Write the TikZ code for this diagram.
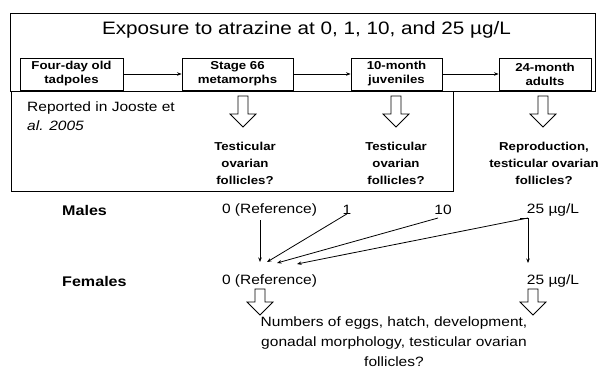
\documentclass[tikz,border=0pt]{standalone}
\usepackage{fontspec}
\setmainfont{Liberation Sans}[FakeStretch=1.15]
\usetikzlibrary{arrows.meta}
\newcommand\hollowarr[3]{%
  \draw[line width=0.8pt, fill=white] ({#1-5},#2) -- ({#1+5},#2) -- ({#1+5},{#3-13}) -- ({#1+13},{#3-13}) -- (#1,#3) -- ({#1-13},{#3-13}) -- ({#1-5},{#3-13}) -- cycle;}
\begin{document}
\begin{tikzpicture}[x=1pt,y=-1pt,
  frame/.style={draw=black, line width=0.9pt},
  stagebox/.style={draw, line width=0.9pt, minimum width=#1, minimum height=32pt, inner sep=0pt, align=center, font=\fontsize{11.5}{14}\selectfont\bfseries},
  qtext/.style={align=center, inner sep=0pt, font=\fontsize{11.5}{17}\selectfont\bfseries},
  ltext/.style={inner sep=0pt, font=\fontsize{13.5}{19}\selectfont},
  sexlabel/.style={inner sep=0pt, anchor=west, font=\fontsize{14}{16}\selectfont\bfseries},
  flow/.style={line width=0.7pt, -{Stealth[length=4.5pt,width=3.5pt]}},
  link/.style={line width=0.8pt, -{Stealth[length=4.5pt,width=3.5pt]}}]
\useasboundingbox (0,0) rectangle (601,375);
% frames
\draw[frame] (10,13) rectangle (595,91);
\draw[frame] (11,91) -- (11,191) -- (453,191) -- (453,91);
% title
\node[inner sep=0pt, font=\fontsize{18}{20}\selectfont] (title) at (306.5,30) {Exposure to atrazine at 0, 1, 10, and 25 µg/L};
% stage boxes
\node[stagebox=103] (s1) at (71.5,74) {Four-day old\\tadpoles};
\node[stagebox=111] (s2) at (237.5,74) {Stage 66\\metamorphs};
\node[stagebox=91] (s3) at (396.5,74) {10-month\\juveniles};
\node[stagebox=92] (s4) at (545,74) {24-month\\adults};
\draw[flow] (s1) -- (s2);
\draw[flow] (s2) -- (s3);
\draw[flow] (s3) -- (s4);
% reported
\node[ltext, anchor=west, align=left, font=\fontsize{13.5}{19}\selectfont] (rep) at (27,116) {Reported in Jooste et\\\textit{al. 2005}};
% hollow arrows
\hollowarr{243}{96}{127}
\hollowarr{396}{96}{127}
\hollowarr{543}{96}{127}
% questions
\node[qtext] (q1) at (245,163) {Testicular\\ovarian\\follicles?};
\node[qtext] (q2) at (396,163) {Testicular\\ovarian\\follicles?};
\node[qtext] (q3) at (544,163) {Reproduction,\\testicular ovarian\\follicles?};
% males / females
\node[sexlabel] (males) at (62,210) {Males};
\node[sexlabel] (females) at (62,281) {Females};
\node[ltext] (m0) at (269.5,210) {0 (Reference)};
\node[ltext] (m1) at (347,210) {1};
\node[ltext] (m10) at (443,210) {10};
\node[ltext] (m25) at (553,210) {25 µg/L};
\node[ltext] (f0) at (269.5,281) {0 (Reference)};
\node[ltext] (f25) at (553,281) {25 µg/L};
% connectors
\coordinate (a0) at (260,220);
\coordinate (b0) at (260,262);
\coordinate (b1) at (267,262);
\coordinate (b10) at (277,263);
\coordinate (b25) at (297,264);
\coordinate (a25) at (528,218);
\coordinate (c25) at (528,263);
\draw[link] (a0) -- (b0);
\draw[link] ([yshift=1pt]m1.south) -- (b1);
\draw[link] (438,218) -- (b10);
\draw[line width=0.8pt] (520,218) -- (a25);
\draw[link] (a25) -- (b25);
\draw[link] (a25) -- (c25);
% female hollow arrows
\hollowarr{260}{289}{315}
\hollowarr{533}{289}{315}
% outcome
\node[ltext, align=center, font=\fontsize{13.5}{20}\selectfont] (out) at (394,342) {Numbers of eggs, hatch, development,\\gonadal morphology, testicular ovarian\\follicles?};
\end{tikzpicture}
\end{document}
